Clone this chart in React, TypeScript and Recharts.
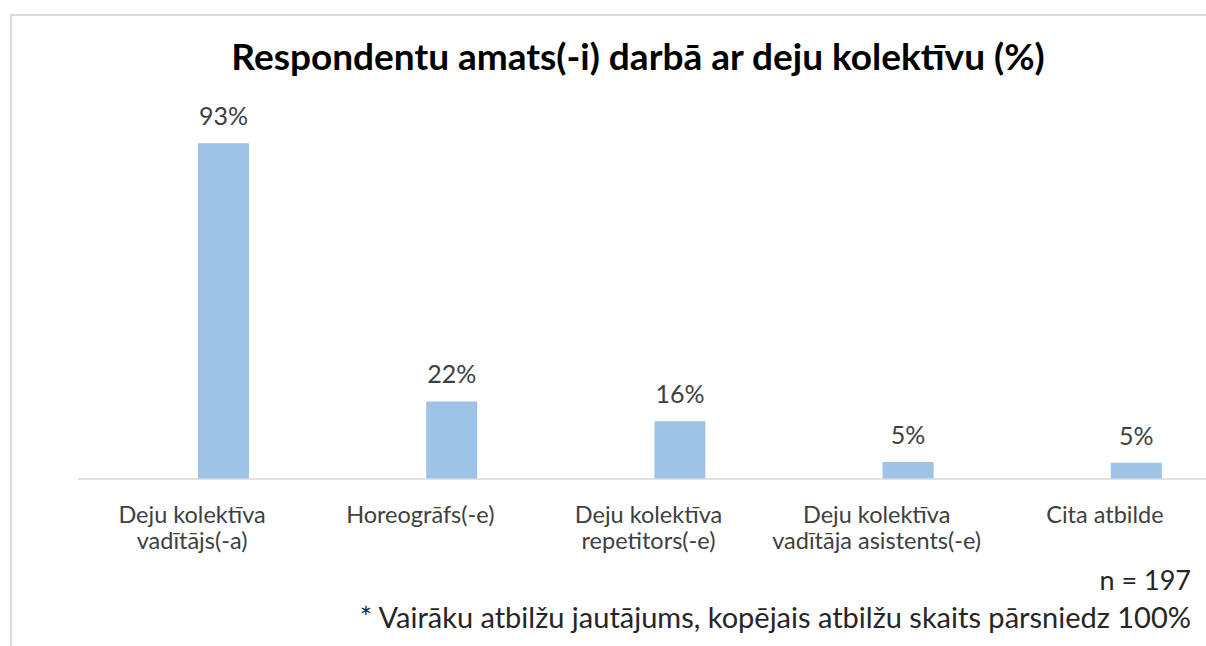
import React from 'react';
import { BarChart, Bar, XAxis, YAxis, LabelList } from 'recharts';

const categories = [
  'Deju kolektīva vadītājs(-a)',
  'Horeogrāfs(-e)',
  'Deju kolektīva repetitors(-e)',
  'Deju kolektīva vadītāja asistents(-e)',
  'Cita atbilde',
];

// how each category label wraps under the axis
const tickLines = [
  ['Deju kolektīva', 'vadītājs(-a)'],
  ['Horeogrāfs(-e)'],
  ['Deju kolektīva', 'repetitors(-e)'],
  ['Deju kolektīva', 'vadītāja asistents(-e)'],
  ['Cita atbilde'],
];

const shares = [93, 21.5, 16, 4.7, 4.5];

const TITLE = 'Respondentu amats(-i) darbā ar deju kolektīvu (%)';
const SAMPLE_NOTE = 'n = 197';
const MULTI_NOTE = '* Vairāku atbilžu jautājums, kopējais atbilžu skaits pārsniedz 100%';

const FONT = 'Lato, "Noto Sans", sans-serif';
const BAR_COLOR = '#9DC3E6';

const data = categories.map((name, i) => ({ name, blank: 0, value: shares[i] }));

function CategoryTick(props: any) {
  const { x, y, index } = props;
  const lines = tickLines[index] || [];
  return (
    <g>
      {lines.map((line, i) => (
        <text
          key={i}
          x={x}
          y={y + 36 + i * 26}
          textAnchor="middle"
          fill="#404040"
          fontSize={23.5}
          fontFamily={FONT}
        >
          {line}
        </text>
      ))}
    </g>
  );
}

function ValueLabel(props: any) {
  const { x, y, width, value } = props;
  return (
    <text
      x={x + width / 2}
      y={y - 18}
      textAnchor="middle"
      fill="#404040"
      fontSize={25}
      fontFamily={FONT}
    >
      {`${Math.round(value)}%`}
    </text>
  );
}

export default function App() {
  return (
    <div
      style={{
        position: 'absolute',
        left: 0,
        top: 0,
        width: 1206,
        height: 646,
        overflow: 'hidden',
        background: '#fff',
      }}
    >
      <div
        style={{
          position: 'absolute',
          left: 10,
          top: 14,
          width: 1300,
          height: 700,
          borderTop: '2px solid #d9d9d9',
          borderLeft: '2px solid #d9d9d9',
        }}
      />
      <div style={{ position: 'absolute', left: 0, top: 0 }}>
        <BarChart
          width={1230}
          height={646}
          data={data}
          margin={{ top: 118, right: 11, bottom: 0, left: 78 }}
          barGap={12}
        >
          <XAxis
            dataKey="name"
            height={167}
            axisLine={{ stroke: '#d9d9d9', strokeWidth: 1.5 }}
            tickLine={false}
            tick={<CategoryTick />}
            interval={0}
          />
          <YAxis hide domain={[0, 100]} />
          <Bar dataKey="blank" barSize={51} fill="transparent" isAnimationActive={false} />
          <Bar dataKey="value" barSize={51} fill={BAR_COLOR} isAnimationActive={false}>
            <LabelList dataKey="value" content={<ValueLabel />} />
          </Bar>
        </BarChart>
      </div>
      <svg
        width={1206}
        height={646}
        style={{ position: 'absolute', left: 0, top: 0, pointerEvents: 'none' }}
      >
        <text
          x={638}
          y={70}
          textAnchor="middle"
          fontSize={37}
          fontWeight="bold"
          fill="#000"
          fontFamily={FONT}
        >
          {TITLE}
        </text>
        <text x={1191} y={590} textAnchor="end" fontSize={27} fill="#262626" fontFamily={FONT}>
          {SAMPLE_NOTE}
        </text>
        <text x={1191} y={628} textAnchor="end" fontSize={29} fill="#262626" fontFamily={FONT}>
          {MULTI_NOTE}
        </text>
      </svg>
    </div>
  );
}
